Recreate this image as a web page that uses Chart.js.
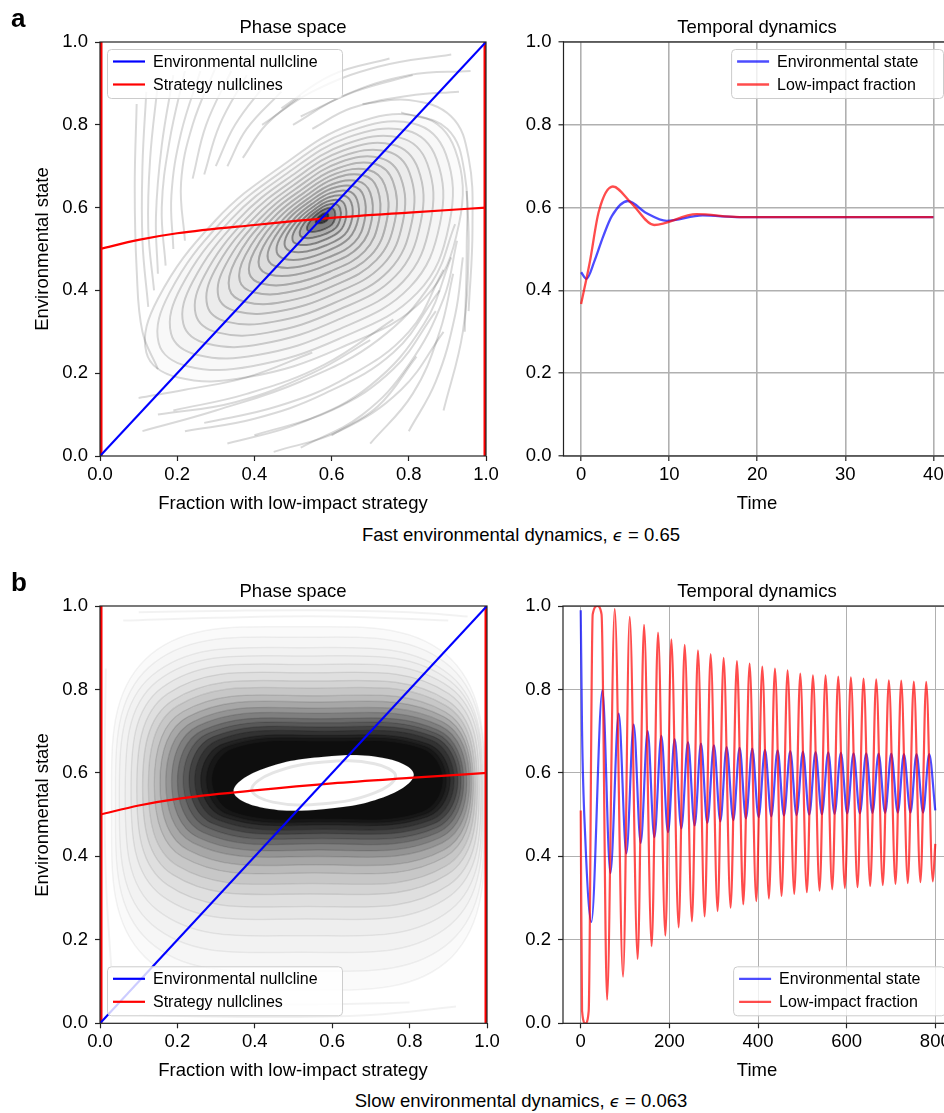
<!DOCTYPE html>
<html lang="en">
<head>
<meta charset="utf-8">
<title>Environmental feedback dynamics</title>
<script src="https://cdn.jsdelivr.net/npm/chart.js@4.4.1/dist/chart.umd.min.js"></script>
<style>
  html, body { margin:0; padding:0; background:#fff; }
  body { position:relative; width:944px; height:1113px; overflow:hidden;
         font-family:"Liberation Sans", Arial, Helvetica, sans-serif; color:#000; }
  canvas { position:absolute; }
  .txt { position:absolute; font-size:18.5px; line-height:18.5px; white-space:nowrap;
         transform:translateX(-50%); z-index:2; }
  .ylab { position:absolute; font-size:18.5px; line-height:18.5px; white-space:nowrap;
          transform:translate(-50%,-50%) rotate(-90deg); z-index:2; }
  .panel { position:absolute; font-weight:bold; font-size:26px; line-height:26px; z-index:2; }
  .eps { font-family:"DejaVu Sans", sans-serif; font-style:italic; font-size:16.5px; }
</style>
</head>
<body>
<canvas id="phaseFast" width="515" height="495" style="left:0;top:0;width:515px;height:495px"></canvas>
<canvas id="timeFast" width="440" height="495" style="left:520px;top:0;width:440px;height:495px"></canvas>
<canvas id="phaseSlow" width="515" height="500" style="left:0;top:560px;width:515px;height:500px"></canvas>
<canvas id="timeSlow" width="450" height="500" style="left:520px;top:560px;width:450px;height:500px"></canvas>

<div class="panel" style="left:11px;top:5px">a</div>
<div class="txt" style="left:293px;top:17.5px">Phase space</div>
<div class="txt" style="left:757px;top:17.5px">Temporal dynamics</div>
<div class="ylab" style="left:42px;top:249px">Environmental state</div>
<div class="txt" style="left:293px;top:493.5px">Fraction with low-impact strategy</div>
<div class="txt" style="left:757px;top:493.5px">Time</div>
<div class="txt" style="left:521px;top:525.5px">Fast environmental dynamics, <span class="eps">ϵ</span> = 0.65</div>

<div class="panel" style="left:11px;top:569px">b</div>
<div class="txt" style="left:293px;top:581.5px">Phase space</div>
<div class="txt" style="left:757px;top:581.5px">Temporal dynamics</div>
<div class="ylab" style="left:42px;top:815px">Environmental state</div>
<div class="txt" style="left:293px;top:1061px">Fraction with low-impact strategy</div>
<div class="txt" style="left:757px;top:1061px">Time</div>
<div class="txt" style="left:521px;top:1092px">Slow environmental dynamics, <span class="eps">ϵ</span> = 0.063</div>

<script>
// ---------- tick values ----------
const unitTicks = [0, 0.2, 0.4, 0.6, 0.8, 1.0];
const fastTimeTicks = [0, 10, 20, 30, 40];
const slowTimeTicks = [0, 200, 400, 600, 800];

// ---------- nullclines (x = low-impact fraction, y = environmental state) ----------
const envNullcline = [[0, 0], [1, 1]];
const strategyNullcline = [[0, 0.5], [0.1, 0.522], [0.2, 0.538], [0.4, 0.558], [0.6, 0.575], [0.8, 0.588], [1.0, 0.6]];
const strategyEdgeLow = [[0, 0], [0, 1]];
const strategyEdgeHigh = [[1, 0], [1, 1]];

// ---------- fast case: trajectories spiralling into the fixed point (outer to inner) ----------
const fastLoops = [
  [[0.30,0.57],[0.15,0.38],[0.12,0.25],[0.20,0.19],[0.38,0.19],[0.62,0.26],[0.84,0.38],[0.93,0.56],[0.92,0.74],[0.83,0.82],[0.65,0.80],[0.47,0.70]],
  [[0.319,0.570],[0.180,0.394],[0.152,0.273],[0.226,0.217],[0.394,0.217],[0.617,0.282],[0.822,0.394],[0.905,0.561],[0.896,0.729],[0.812,0.803],[0.645,0.784],[0.477,0.691]],
  [[0.339,0.571],[0.210,0.408],[0.184,0.296],[0.253,0.244],[0.408,0.244],[0.614,0.304],[0.803,0.408],[0.881,0.562],[0.872,0.717],[0.795,0.786],[0.640,0.769],[0.485,0.683]],
  [[0.358,0.571],[0.240,0.421],[0.216,0.319],[0.279,0.271],[0.421,0.271],[0.611,0.327],[0.785,0.421],[0.856,0.564],[0.848,0.706],[0.777,0.769],[0.635,0.753],[0.492,0.674]],
  [[0.378,0.572],[0.270,0.435],[0.248,0.342],[0.306,0.298],[0.435,0.298],[0.608,0.349],[0.766,0.435],[0.831,0.565],[0.824,0.694],[0.759,0.752],[0.630,0.738],[0.500,0.666]],
  [[0.396,0.572],[0.297,0.448],[0.278,0.363],[0.330,0.324],[0.448,0.324],[0.605,0.369],[0.749,0.448],[0.808,0.566],[0.802,0.684],[0.743,0.736],[0.625,0.723],[0.507,0.658]],
  [[0.414,0.573],[0.325,0.461],[0.307,0.384],[0.355,0.349],[0.461,0.349],[0.602,0.390],[0.732,0.461],[0.785,0.567],[0.779,0.673],[0.726,0.720],[0.620,0.709],[0.514,0.650]],
  [[0.430,0.573],[0.351,0.473],[0.335,0.404],[0.377,0.372],[0.473,0.372],[0.600,0.409],[0.716,0.473],[0.764,0.568],[0.759,0.663],[0.711,0.706],[0.616,0.695],[0.520,0.642]],
  [[0.447,0.574],[0.376,0.484],[0.362,0.423],[0.400,0.395],[0.484,0.395],[0.597,0.428],[0.701,0.484],[0.743,0.569],[0.738,0.654],[0.696,0.691],[0.611,0.682],[0.527,0.635]],
  [[0.462,0.574],[0.400,0.495],[0.387,0.441],[0.421,0.416],[0.495,0.416],[0.595,0.445],[0.686,0.495],[0.723,0.570],[0.719,0.645],[0.682,0.678],[0.607,0.670],[0.533,0.628]],
  [[0.477,0.574],[0.423,0.506],[0.412,0.459],[0.441,0.438],[0.506,0.438],[0.592,0.463],[0.672,0.506],[0.704,0.571],[0.700,0.636],[0.668,0.664],[0.603,0.657],[0.538,0.621]],
  [[0.491,0.575],[0.445,0.516],[0.435,0.476],[0.460,0.457],[0.516,0.457],[0.590,0.479],[0.659,0.516],[0.686,0.572],[0.683,0.628],[0.655,0.652],[0.600,0.646],[0.544,0.615]],
  [[0.505,0.575],[0.466,0.526],[0.458,0.492],[0.479,0.476],[0.526,0.476],[0.588,0.495],[0.645,0.526],[0.669,0.573],[0.666,0.619],[0.643,0.640],[0.596,0.635],[0.549,0.609]],
  [[0.517,0.575],[0.485,0.535],[0.479,0.507],[0.496,0.494],[0.535,0.494],[0.586,0.509],[0.634,0.535],[0.653,0.573],[0.651,0.612],[0.631,0.629],[0.593,0.625],[0.554,0.603]],
  [[0.530,0.576],[0.504,0.544],[0.499,0.521],[0.513,0.511],[0.544,0.511],[0.584,0.523],[0.622,0.544],[0.637,0.574],[0.635,0.605],[0.620,0.618],[0.589,0.615],[0.559,0.598]],
  [[0.541,0.576],[0.521,0.551],[0.518,0.534],[0.528,0.527],[0.551,0.527],[0.583,0.536],[0.611,0.551],[0.623,0.575],[0.622,0.598],[0.610,0.609],[0.586,0.606],[0.563,0.593]],
  [[0.552,0.576],[0.539,0.559],[0.536,0.548],[0.543,0.542],[0.559,0.542],[0.581,0.548],[0.601,0.559],[0.609,0.575],[0.608,0.592],[0.600,0.599],[0.584,0.597],[0.567,0.588]],
  [[0.566,0.577],[0.560,0.569],[0.559,0.564],[0.562,0.562],[0.569,0.562],[0.579,0.564],[0.588,0.569],[0.591,0.576],[0.591,0.584],[0.587,0.587],[0.580,0.586],[0.573,0.582]]
];
const fastArcs = [
  [[0.095,0.85],[0.09,0.65],[0.095,0.45],[0.11,0.30],[0.15,0.21]],
  [[0.12,0.88],[0.11,0.70],[0.11,0.52],[0.125,0.36]],
  [[0.15,0.90],[0.13,0.72],[0.125,0.55],[0.14,0.40]],
  [[0.19,0.92],[0.16,0.75],[0.145,0.58],[0.15,0.44]],
  [[0.22,0.93],[0.18,0.76],[0.16,0.60],[0.17,0.46]],
  [[0.26,0.93],[0.21,0.78],[0.185,0.63],[0.19,0.50]],
  [[0.30,0.94],[0.24,0.80],[0.21,0.66],[0.22,0.52]],
  [[0.34,0.93],[0.275,0.80],[0.24,0.67]],
  [[0.38,0.92],[0.31,0.80],[0.27,0.68]],
  [[0.43,0.90],[0.35,0.80],[0.30,0.70]],
  [[0.47,0.88],[0.38,0.79],[0.33,0.70]],
  [[0.52,0.87],[0.43,0.80],[0.37,0.72]],
  [[0.91,0.97],[0.72,0.94],[0.55,0.88],[0.42,0.80]],
  [[0.75,0.96],[0.60,0.92],[0.47,0.84]],
  [[0.81,0.92],[0.66,0.88],[0.52,0.82]],
  [[0.96,0.93],[0.80,0.92],[0.63,0.87],[0.50,0.80]],
  [[0.93,0.88],[0.80,0.87],[0.65,0.84],[0.55,0.79]],
  [[0.955,0.35],[0.965,0.55],[0.955,0.72],[0.91,0.82],[0.80,0.86],[0.68,0.85]],
  [[0.945,0.30],[0.95,0.50],[0.945,0.68],[0.90,0.79],[0.78,0.83]],
  [[0.11,0.06],[0.30,0.11],[0.52,0.18],[0.72,0.28],[0.86,0.42],[0.92,0.56]],
  [[0.22,0.06],[0.40,0.09],[0.58,0.15],[0.76,0.25],[0.88,0.40]],
  [[0.27,0.08],[0.46,0.12],[0.64,0.19],[0.80,0.30],[0.89,0.45]],
  [[0.33,0.03],[0.52,0.08],[0.70,0.17],[0.84,0.32],[0.91,0.48]],
  [[0.40,0.05],[0.60,0.11],[0.76,0.21],[0.87,0.35]],
  [[0.45,0.01],[0.62,0.06],[0.78,0.16],[0.89,0.30]],
  [[0.52,0.02],[0.68,0.10],[0.80,0.22],[0.89,0.38],[0.925,0.52]],
  [[0.60,0.05],[0.72,0.12],[0.82,0.24]],
  [[0.70,0.03],[0.81,0.15],[0.88,0.30],[0.915,0.44]],
  [[0.80,0.06],[0.87,0.18],[0.92,0.34],[0.94,0.48]],
  [[0.89,0.11],[0.94,0.30],[0.955,0.50],[0.95,0.64]],
  [[0.10,0.14],[0.22,0.16],[0.38,0.19],[0.55,0.25]],
  [[0.15,0.10],[0.35,0.13],[0.55,0.20],[0.70,0.28]],
  [[0.19,0.11],[0.38,0.15],[0.58,0.22],[0.76,0.33]]
];

// ---------- slow case: trajectories winding onto the limit cycle (outer to inner) ----------
const slowLoops = [
  [[0.03,0.515],[0.117,0.158],[0.513,0.08],[0.908,0.158],[0.995,0.515],[0.908,0.872],[0.513,0.95],[0.117,0.872]],
  [[0.04,0.525],[0.126,0.197],[0.517,0.125],[0.907,0.197],[0.993,0.525],[0.907,0.853],[0.517,0.925],[0.126,0.853]],
  [[0.05,0.535],[0.135,0.236],[0.52,0.17],[0.905,0.236],[0.99,0.535],[0.905,0.834],[0.52,0.90],[0.135,0.834]],
  [[0.065,0.545],[0.148,0.271],[0.527,0.21],[0.905,0.271],[0.988,0.545],[0.905,0.820],[0.527,0.88],[0.148,0.820]],
  [[0.08,0.555],[0.161,0.305],[0.533,0.25],[0.904,0.305],[0.985,0.555],[0.904,0.805],[0.533,0.86],[0.161,0.805]],
  [[0.095,0.56],[0.175,0.331],[0.538,0.28],[0.901,0.331],[0.98,0.56],[0.901,0.790],[0.538,0.84],[0.175,0.790]],
  [[0.11,0.565],[0.188,0.356],[0.543,0.31],[0.897,0.356],[0.975,0.565],[0.897,0.774],[0.543,0.82],[0.188,0.774]],
  [[0.125,0.569],[0.201,0.377],[0.548,0.335],[0.894,0.377],[0.97,0.569],[0.894,0.761],[0.548,0.803],[0.201,0.761]],
  [[0.14,0.573],[0.214,0.398],[0.553,0.36],[0.891,0.398],[0.965,0.573],[0.891,0.747],[0.553,0.785],[0.214,0.747]],
  [[0.155,0.576],[0.228,0.415],[0.558,0.38],[0.888,0.415],[0.96,0.576],[0.888,0.735],[0.558,0.77],[0.228,0.735]],
  [[0.17,0.578],[0.241,0.432],[0.563,0.40],[0.884,0.432],[0.955,0.578],[0.884,0.723],[0.563,0.755],[0.241,0.723]],
  [[0.185,0.579],[0.254,0.445],[0.567,0.415],[0.879,0.445],[0.948,0.579],[0.879,0.713],[0.567,0.743],[0.254,0.713]],
  [[0.20,0.58],[0.267,0.457],[0.57,0.43],[0.873,0.457],[0.94,0.58],[0.873,0.703],[0.57,0.73],[0.267,0.703]],
  [[0.215,0.582],[0.28,0.468],[0.574,0.443],[0.868,0.468],[0.933,0.582],[0.868,0.695],[0.574,0.72],[0.28,0.695]],
  [[0.23,0.583],[0.293,0.478],[0.578,0.455],[0.862,0.478],[0.925,0.583],[0.862,0.687],[0.578,0.71],[0.293,0.687]],
  [[0.245,0.583],[0.306,0.487],[0.581,0.465],[0.855,0.487],[0.915,0.583],[0.855,0.679],[0.581,0.70],[0.306,0.679]],
  [[0.26,0.583],[0.318,0.495],[0.583,0.475],[0.847,0.495],[0.905,0.583],[0.847,0.670],[0.583,0.69],[0.318,0.670]],
  [[0.275,0.583],[0.331,0.501],[0.586,0.483],[0.839,0.501],[0.895,0.583],[0.839,0.664],[0.586,0.683],[0.331,0.664]],
  [[0.29,0.583],[0.344,0.507],[0.588,0.49],[0.831,0.507],[0.885,0.583],[0.831,0.658],[0.588,0.675],[0.344,0.658]]
];
const slowCycleHole = [[0.345,0.556],[0.413,0.518],[0.578,0.513],[0.743,0.545],[0.811,0.596],[0.743,0.634],[0.578,0.639],[0.413,0.607]];
const slowCycleInner = [[0.392,0.560],[0.4465,0.530],[0.578,0.526],[0.7095,0.552],[0.764,0.592],[0.7095,0.622],[0.578,0.626],[0.4465,0.600]];
const slowArcs = [
  [[0.10,0.985],[0.30,0.988],[0.55,0.99],[0.80,0.985],[0.95,0.975]],
  [[0.06,0.965],[0.30,0.972],[0.60,0.975],[0.90,0.965]],
  [[0.015,0.85],[0.012,0.60],[0.015,0.35],[0.03,0.12]],
  [[0.10,0.02],[0.40,0.015],[0.70,0.02],[0.92,0.04]],
  [[0.20,0.05],[0.50,0.045],[0.80,0.05]]
];

// ---------- temporal dynamics [time, value] ----------
const fastEnvState = [[0,0.444],[0.6,0.428],[1.5,0.47],[2.5,0.53],[3.5,0.58],[5.3,0.616],[7.4,0.587],[9.7,0.568],[13.8,0.581],[18,0.577],[25,0.577],[40,0.577]];
const fastLowImpact = [[0,0.367],[1,0.47],[2,0.59],[3.6,0.651],[5.7,0.611],[8.3,0.558],[13.1,0.584],[18,0.577],[25,0.577],[40,0.577]];

const slowEnvState = [[0,0.99],[3,0.70],[10,0.45],[24,0.243],
  [48.9,0.798],[66.9,0.360],[85.7,0.742],[103,0.407],[119.5,0.716],[135.3,0.432],[151,0.700],[166.1,0.446],
  [181.9,0.689],[196.9,0.458],[212,0.681],[227,0.467],[242,0.674],[257,0.474],[271.3,0.670],[285.6,0.480],
  [300.6,0.666],[315,0.484],[329.2,0.662],[344.3,0.487],[358.5,0.660],[372.8,0.491],[387,0.658],[401.4,0.494],
  [415.7,0.655],[430,0.496],[444.2,0.654],[458.5,0.498],[472.8,0.652],[487,0.499],[501.3,0.651],[515.6,0.500],
  [529.9,0.650],[544,0.501],[558.5,0.649],[572.7,0.502],[587,0.648],[601.3,0.503],[615.6,0.647],[629.8,0.503],
  [644.2,0.647],[658.3,0.504],[672,0.646],[686.9,0.504],[700.6,0.646],[715.4,0.505],[729.2,0.645],[744,0.505],
  [757.7,0.645],[772.5,0.505],[786.3,0.645],[800,0.51]];
const slowLowImpact = [[0,0.51],[3,0.03],[10.5,0.0],[18,0.03],[27,0.98],[37.6,1.0],[47,0.98],
  [59.4,0.056],[76.7,0.993],[95.5,0.112],[110.5,0.974],[128.5,0.154],[142.8,0.955],[160.1,0.185],[174.4,0.936],
  [191,0.210],[204.4,0.920],[221,0.230],[234.5,0.907],[251,0.244],[264.5,0.894],[279.6,0.256],[293.1,0.885],
  [308.9,0.269],[322.4,0.876],[338.2,0.277],[352.5,0.868],[366.8,0.285],[381,0.862],[396.2,0.293],[409.6,0.855],
  [424.6,0.299],[438.2,0.850],[453.2,0.305],[466.7,0.846],[481.8,0.310],[495.3,0.838],[510.3,0.314],[523.9,0.834],
  [538.9,0.318],[552.4,0.834],[567.5,0.321],[581,0.831],[596,0.324],[609.5,0.829],[624.6,0.326],[638.1,0.826],
  [653.2,0.329],[666.7,0.824],[681.6,0.331],[695.2,0.822],[710.3,0.334],[723.1,0.821],[738,0.336],[751.5,0.819],
  [766.6,0.338],[779.5,0.818],[794.4,0.340],[800,0.43]];

// ---------- chart setup ----------
const family = "'Liberation Sans', Arial, Helvetica, sans-serif";
Chart.defaults.font.family = family;
Chart.defaults.font.size = 18.5;
Chart.defaults.color = '#000';

const pts = arr => arr.map(p => ({ x: p[0], y: p[1] }));

// closed trajectories are drawn as smooth closed splines
const closeLoops = {
  id: 'closeLoops',
  afterDatasetUpdate(chart, args) {
    const ds = chart.data.datasets[args.index];
    const line = args.meta.dataset;
    if (ds.closed && line) {
      line._loop = true;
      line._fullLoop = true;
      delete line._segments;
      delete line._path;
      line._pointsUpdated = false;
    }
  }
};

// axes box (all four spines)
const frame = {
  id: 'frame',
  afterDatasetsDraw(chart) {
    const { ctx, chartArea: a } = chart;
    ctx.save();
    ctx.strokeStyle = '#222';
    ctx.lineWidth = 1.2;
    ctx.strokeRect(a.left, a.top, a.right - a.left, a.bottom - a.top);
    ctx.restore();
  }
};

// legend box drawn inside the axes
const boxLegend = {
  id: 'boxLegend',
  afterDraw(chart, args, opts) {
    const items = chart.data.datasets.filter(d => d.inLegend);
    if (!items.length) return;
    const ctx = chart.ctx, a = chart.chartArea;
    const rowH = 23, padL = 5.5, sample = 32, gap = 8, padR = 25, inset = 7.5;
    ctx.save();
    ctx.font = '16px ' + family;
    const tw = Math.max(...items.map(d => ctx.measureText(d.label).width));
    const w = padL + sample + gap + tw + padR;
    const h = items.length * rowH + 3;
    const x = opts.align === 'right' ? a.right - inset - w : a.left + inset;
    const y = opts.valign === 'bottom' ? a.bottom - inset - h : a.top + inset;
    ctx.beginPath();
    ctx.roundRect(x, y, w, h, 4);
    ctx.fillStyle = 'rgba(255,255,255,0.8)';
    ctx.fill();
    ctx.strokeStyle = '#cccccc';
    ctx.lineWidth = 1;
    ctx.stroke();
    items.forEach((d, i) => {
      const cy = y + 12 + i * rowH;
      ctx.beginPath();
      ctx.moveTo(x + padL, cy);
      ctx.lineTo(x + padL + sample, cy);
      ctx.strokeStyle = d.borderColor;
      ctx.lineWidth = d.borderWidth;
      ctx.stroke();
      ctx.fillStyle = '#000';
      ctx.textBaseline = 'middle';
      ctx.textAlign = 'left';
      ctx.fillText(d.label, x + padL + sample + gap, cy + 1);
    });
    ctx.restore();
  }
};

function unitScale(axis, size, gridOn, gridWidth) {
  return {
    type: 'linear', min: 0, max: 1,
    afterFit: s => { if (axis === 'x') s.height = size; else s.width = size; },
    afterBuildTicks: s => { s.ticks = unitTicks.map(v => ({ value: v })); },
    ticks: { padding: axis === 'x' ? 3 : 7, maxRotation: 0, autoSkip: false, callback: v => v.toFixed(1) },
    grid: gridOn
      ? { color: '#b0b0b0', lineWidth: gridWidth, tickColor: '#222', tickLength: 5, tickWidth: 1.2 }
      : { drawOnChartArea: false, tickColor: '#222', tickLength: 5, tickWidth: 1.2 },
    border: { display: false }
  };
}

function timeScale(lo, hi, tickVals, size, gridWidth) {
  return {
    type: 'linear', min: lo, max: hi,
    afterFit: s => { s.height = size; },
    afterBuildTicks: s => { s.ticks = tickVals.map(v => ({ value: v })); },
    ticks: { padding: 3, maxRotation: 0, autoSkip: false },
    grid: { color: '#b0b0b0', lineWidth: gridWidth, tickColor: '#222', tickLength: 5, tickWidth: 1.2 },
    border: { display: false }
  };
}

function nullclineSets() {
  return [
    { label: 'Environmental nullcline', inLegend: true, data: pts(envNullcline),
      borderColor: '#0000ff', borderWidth: 2.2, order: 0 },
    { label: 'Strategy nullclines', inLegend: true, data: pts(strategyNullcline),
      borderColor: '#ff0000', borderWidth: 2.2, cubicInterpolationMode: 'monotone', order: 0 },
    { label: 'edge0', data: pts(strategyEdgeLow), borderColor: '#ff0000', borderWidth: 5, order: 0 },
    { label: 'edge1', data: pts(strategyEdgeHigh), borderColor: '#ff0000', borderWidth: 5, order: 0 }
  ];
}

function baseOptions(padding, xScale, yScale, legendPos) {
  return {
    responsive: false, animation: false, events: [],
    layout: { padding },
    plugins: { legend: { display: false }, tooltip: { enabled: false }, boxLegend: legendPos },
    elements: { point: { radius: 0 }, line: { tension: 0, fill: false, borderCapStyle: 'butt' } },
    scales: { x: xScale, y: yScale }
  };
}

// ---- a: phase space ----
const fastInnerFill = [0.06, 0.12, 0.25, 0.55];   // shading of the four innermost turns
const fastPhaseSets = nullclineSets();
const nFast = fastLoops.length;
fastLoops.forEach((loop, i) => {
  const k = i / (nFast - 1);
  const j = i - (nFast - fastInnerFill.length);
  const fillA = j >= 0 ? fastInnerFill[j] : 0.015;
  fastPhaseSets.push({
    data: pts(loop), closed: true, tension: 0.4, fill: 'shape',
    backgroundColor: `rgba(0,0,0,${fillA})`,
    borderColor: `rgba(0,0,0,${(0.15 + 0.3 * Math.pow(k, 1.5)).toFixed(3)})`,
    borderWidth: 2, order: 2
  });
});
fastArcs.forEach(arc => fastPhaseSets.push({
  data: pts(arc), tension: 0.4, borderColor: 'rgba(0,0,0,0.15)', borderWidth: 2, order: 2
}));
new Chart(document.getElementById('phaseFast'), {
  type: 'line',
  data: { datasets: fastPhaseSets },
  options: baseOptions({ top: 42, right: 29, bottom: 0, left: 0 },
    unitScale('x', 39, false), unitScale('y', 100, false), { align: 'left', valign: 'top' }),
  plugins: [closeLoops, frame, boxLegend]
});

// ---- a: temporal dynamics ----
new Chart(document.getElementById('timeFast'), {
  type: 'line',
  data: { datasets: [
    { label: 'Environmental state', inLegend: true, data: pts(fastEnvState),
      borderColor: 'rgba(0,0,255,0.7)', borderWidth: 2.3, cubicInterpolationMode: 'monotone', order: 1 },
    { label: 'Low-impact fraction', inLegend: true, data: pts(fastLowImpact),
      borderColor: 'rgba(255,0,0,0.7)', borderWidth: 2.3, cubicInterpolationMode: 'monotone', order: 0 }
  ] },
  options: baseOptions({ top: 42, right: 9, bottom: 0, left: 0 },
    timeScale(-2, 42, fastTimeTicks, 39, 1.6), unitScale('y', 43.5, true, 1.6), { align: 'right', valign: 'top' }),
  plugins: [frame, boxLegend]
});

// ---- b: phase space ----
const slowFill = [0.02, 0.0204, 0.0208, 0.0213, 0.0326, 0.0337, 0.0465, 0.061, 0.078, 0.0986,
                  0.125, 0.143, 0.167, 0.2, 0.25, 0.292, 0.353, 0.364, 0.429];
const slowPhaseSets = nullclineSets();
slowPhaseSets.push({ data: pts(slowCycleInner), closed: true, tension: 0.4, fill: false,
  borderColor: 'rgba(0,0,0,0.1)', borderWidth: 3, order: 1 });
slowPhaseSets.push({ data: pts(slowCycleHole), closed: true, tension: 0.4, fill: 'shape',
  backgroundColor: '#ffffff', borderColor: 'rgba(0,0,0,0.12)', borderWidth: 1, order: 2 });
slowLoops.forEach((loop, i) => slowPhaseSets.push({
  data: pts(loop), closed: true, tension: 0.4, fill: 'shape',
  backgroundColor: `rgba(0,0,0,${slowFill[i]})`,
  borderColor: `rgba(0,0,0,${(0.05 + 0.006 * i).toFixed(3)})`,
  borderWidth: 1.5, order: 3
}));
slowArcs.forEach(arc => slowPhaseSets.push({
  data: pts(arc), tension: 0.4, borderColor: 'rgba(0,0,0,0.05)', borderWidth: 2, order: 3
}));
new Chart(document.getElementById('phaseSlow'), {
  type: 'line',
  data: { datasets: slowPhaseSets },
  options: baseOptions({ top: 46, right: 28, bottom: 0, left: 0 },
    unitScale('x', 36.7, false), unitScale('y', 100, false), { align: 'left', valign: 'bottom' }),
  plugins: [closeLoops, frame, boxLegend]
});

// ---- b: temporal dynamics ----
new Chart(document.getElementById('timeSlow'), {
  type: 'line',
  data: { datasets: [
    { label: 'Environmental state', inLegend: true, data: pts(slowEnvState),
      borderColor: 'rgba(0,0,255,0.7)', borderWidth: 2.2, cubicInterpolationMode: 'monotone', order: 1 },
    { label: 'Low-impact fraction', inLegend: true, data: pts(slowLowImpact),
      borderColor: 'rgba(255,0,0,0.7)', borderWidth: 2.2, cubicInterpolationMode: 'monotone', order: 0 }
  ] },
  options: baseOptions({ top: 46, right: 17, bottom: 0, left: 0 },
    timeScale(-40, 840, slowTimeTicks, 36.7, 1), unitScale('y', 43, true, 1), { align: 'right', valign: 'bottom' }),
  plugins: [frame, boxLegend]
});
</script>
</body>
</html>
